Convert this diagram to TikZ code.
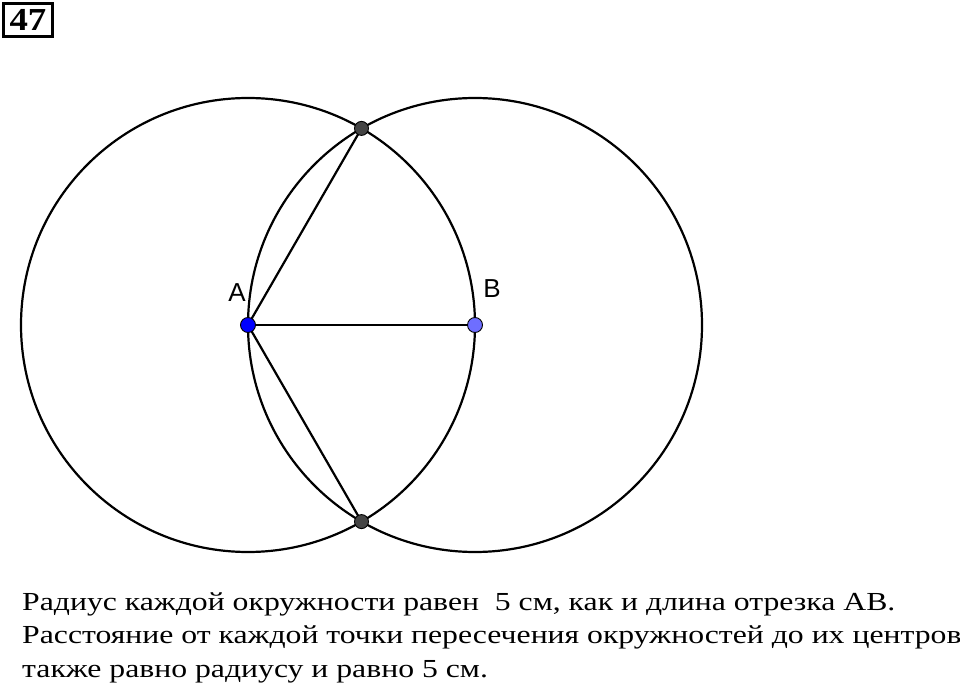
\documentclass[tikz,border=0pt]{standalone}
\usepackage{fontspec}
\setmainfont{Liberation Serif}
\newfontfamily\lblfont{Liberation Sans}
\newfontfamily\bodyfont[FakeStretch=1.22]{Liberation Serif}
\newfontfamily\numfont[FakeStretch=1.15]{Liberation Serif}
\definecolor{ptA}{RGB}{0,0,255}
\definecolor{ptB}{RGB}{110,110,255}
\definecolor{ptX}{RGB}{68,68,68}
\begin{document}
\begin{tikzpicture}[x=1pt,y=-1pt,
  geo/.style={line width=2.2pt,black},
  pt/.style={circle,draw=black,line width=0.9pt,inner sep=0pt,minimum size=15pt},
  lbl/.style={font=\lblfont\fontsize{26}{30}\selectfont,inner sep=0pt},
  txt/.style={font=\bodyfont\fontsize{26}{33}\selectfont,anchor=base west,inner sep=0pt}]
\useasboundingbox (0,0) rectangle (960,692);
\coordinate (A) at (248,325);
\coordinate (B) at (475,325);
\coordinate (P) at (361.5,128.4);
\coordinate (Q) at (361.5,521.6);
\draw[geo] (A) circle[radius=227];
\draw[geo] (B) circle[radius=227];
\draw[geo] (A) -- (B);
\draw[geo] (A) -- (P);
\draw[geo] (A) -- (Q);
\node[pt,fill=ptA] (nA) at (A) {};
\node[pt,fill=ptB] (nB) at (B) {};
\node[pt,fill=ptX,minimum size=14pt] (nP) at (P) {};
\node[pt,fill=ptX,minimum size=14pt] (nQ) at (Q) {};
\node[lbl] (lA) at (237,293) {A};
\node[lbl] (lB) at (492,289) {B};
\node[draw,line width=2.2pt,inner sep=0pt,minimum width=49pt,minimum height=33pt,font=\numfont\bfseries\fontsize{32}{32}\selectfont] (num) at (28,20) {47};
\node[txt] (t1) at (22,610) {Радиус каждой окружности равен \ 5 см, как и длина отрезка АВ.};
\node[txt] (t2) at (22,643) {Расстояние от каждой точки пересечения окружностей до их центров};
\node[txt] (t3) at (22,677) {также равно радиусу и равно 5 см.};
\end{tikzpicture}
\end{document}
